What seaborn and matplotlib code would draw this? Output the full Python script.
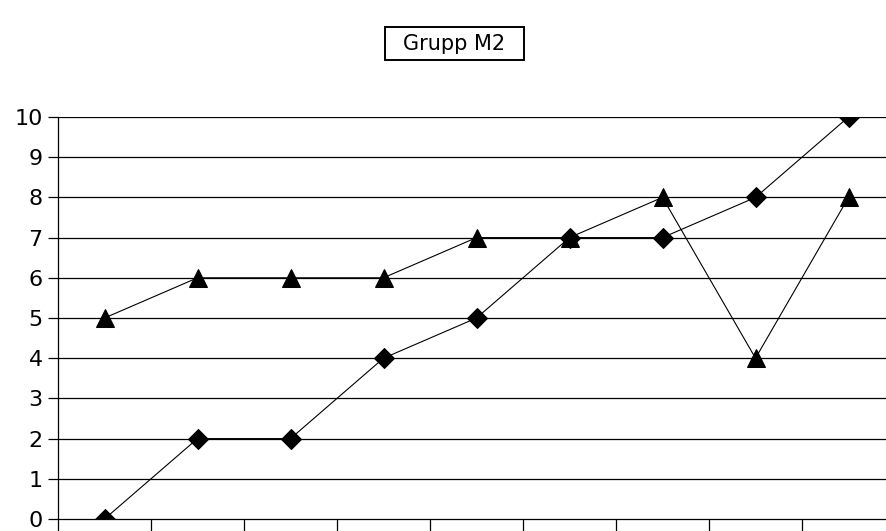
import matplotlib
matplotlib.use("Agg")
import matplotlib.pyplot as plt
from matplotlib.patches import Rectangle
import seaborn as sns
import numpy as np
import pandas as pd

positions = list(range(9))
diamond_values = [0, 2, 2, 4, 5, 7, 7, 8, 10]
triangle_values = [5, 6, 6, 6, 7, 7, 8, 4, 8]
y_ticks = list(range(0, 11))
title = "Grupp M2"

sns.set_theme(style="white")
plt.rcParams['font.family'] = ['DejaVu Sans']
plt.rcParams['text.color'] = 'black'
plt.rcParams['ytick.color'] = 'black'
plt.rcParams['xtick.color'] = 'black'

W, H = 886, 531
fig = plt.figure(figsize=(W / 100, H / 100), dpi=100)
left, right, top, bottom = 58, 895, 117, 519
ax = fig.add_axes([left / W, (H - bottom) / H, (right - left) / W, (bottom - top) / H])

df_d = pd.DataFrame({"x": positions, "y": diamond_values})
df_t = pd.DataFrame({"x": positions, "y": triangle_values})

sns.lineplot(data=df_t, x="x", y="y", ax=ax, color="black", linewidth=0.8,
             marker="^", markersize=13.5, markeredgecolor="black", markerfacecolor="black")
sns.lineplot(data=df_d, x="x", y="y", ax=ax, color="black", linewidth=0.8,
             marker="D", markersize=10.5, markeredgecolor="black", markerfacecolor="black")

ax.set_xlim(-0.5, 8.5)
ax.set_ylim(0, 10)
ax.set_yticks(y_ticks)
ax.set_yticklabels([str(v) for v in y_ticks], fontsize=16, color="black")
ax.set_xticks(np.arange(-0.5, 9.0, 1.0))
ax.set_xticklabels([])
for yv in y_ticks[1:]:
    ax.axhline(yv, color="black", linewidth=0.9, zorder=0)
ax.tick_params(axis="y", direction="out", length=7.5, width=0.9, color="black", pad=3.5, left=True)
ax.tick_params(axis="x", direction="out", length=9, width=0.9, color="black", bottom=True)
ax.set_xlabel("")
ax.set_ylabel("")
for s in ["top", "right"]:
    ax.spines[s].set_visible(False)
for s in ["left", "bottom"]:
    ax.spines[s].set_color("black")
    ax.spines[s].set_linewidth(0.9)
ax.grid(False)

bx0, bx1, by0, by1 = 385, 524, 27, 60
fig.patches.append(Rectangle((bx0 / W, 1 - by1 / H), (bx1 - bx0) / W, (by1 - by0) / H,
                             transform=fig.transFigure, facecolor="white",
                             edgecolor="black", linewidth=1.4))
fig.text((bx0 + bx1) / 2 / W, 1 - (by0 + by1) / 2 / H, title, ha="center", va="center",
         fontsize=15, color="black")

fig.savefig("out.png", dpi=100)
